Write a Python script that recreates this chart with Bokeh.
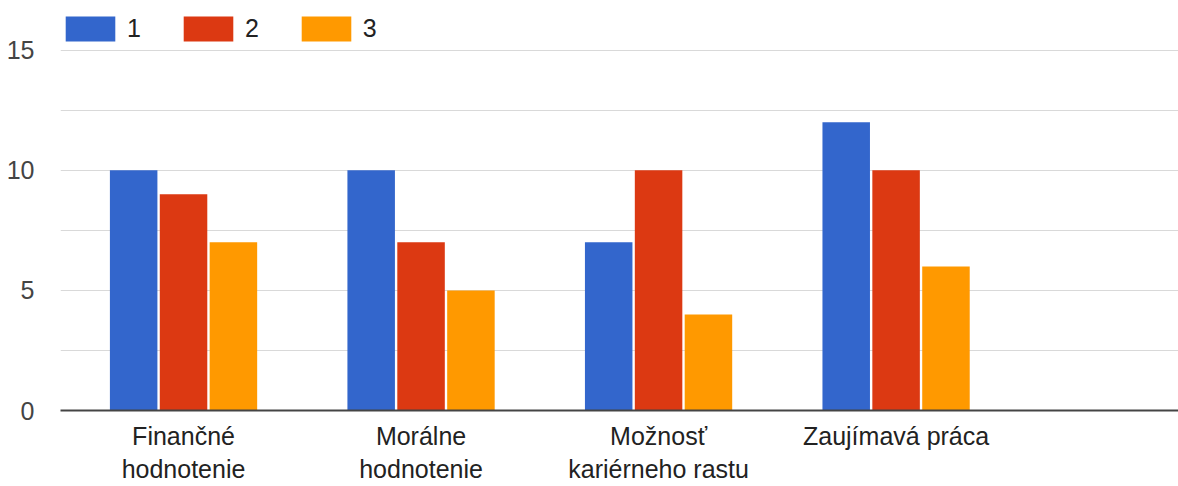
from bokeh.plotting import figure
from bokeh.models import ColumnDataSource, Range1d, FixedTicker, Legend, LegendItem
from bokeh.transform import dodge
from bokeh.embed import file_html
from bokeh.resources import INLINE

categories = ["Finančné\nhodnotenie", "Morálne\nhodnotenie", "Možnosť\nkariérneho rastu", "Zaujímavá práca"]
series_names = ["1", "2", "3"]
s1 = [10, 10, 7, 12]
s2 = [9, 7, 10, 10]
s3 = [7, 5, 4, 6]
colors = ["#3366CC", "#DC3912", "#FF9900"]
y_ticks = [0, 5, 10, 15]
y_grid = [0, 2.5, 5, 7.5, 10, 12.5, 15]

xs = [i + 0.5 for i in range(len(categories))]
src = ColumnDataSource(data=dict(x=xs, s1=s1, s2=s2, s3=s3))

FONT = "Liberation Sans"

p = figure(width=1178, height=486, x_range=Range1d(-0.018, 4.689), y_range=Range1d(0, 17.07),
           output_backend="svg", toolbar_location=None,
           min_border_left=60, min_border_right=0, min_border_top=0, min_border_bottom=75)
p.outline_line_color = None
p.background_fill_color = "white"

renderers = []
for key, off, col in zip(["s1", "s2", "s3"], [-0.21, 0.0, 0.21], colors):
    r = p.vbar(x=dodge("x", off, range=p.x_range), top=key, width=0.2, source=src,
               fill_color=col, line_color=None)
    renderers.append(r)

p.xgrid.visible = False
p.ygrid.ticker = FixedTicker(ticks=y_grid)
p.ygrid.grid_line_color = "#d9d9d9"
p.ygrid.grid_line_width = 1

p.yaxis.ticker = FixedTicker(ticks=y_ticks)
p.yaxis.axis_line_color = None
p.yaxis.major_tick_line_color = None
p.yaxis.minor_tick_line_color = None
p.yaxis.major_label_standoff = 20
p.yaxis.major_label_text_font = FONT
p.yaxis.major_label_text_font_size = "25px"
p.yaxis.major_label_text_color = "#444444"

p.xaxis.ticker = FixedTicker(ticks=xs)
p.xaxis.major_label_overrides = {x: c for x, c in zip(xs, categories)}
p.xaxis.axis_line_color = "#444444"
p.xaxis.axis_line_width = 2
p.xaxis.major_tick_line_color = None
p.xaxis.minor_tick_line_color = None
p.xaxis.major_label_standoff = 5
p.xaxis.major_label_text_font = FONT
p.xaxis.major_label_text_font_size = "25px"
p.xaxis.major_label_text_color = "#222222"

legend = Legend(items=[LegendItem(label=n, renderers=[r]) for n, r in zip(series_names, renderers)],
                orientation="horizontal", location=(-1, 366))
legend.glyph_width = 62
legend.glyph_height = 31
legend.label_standoff = 6
legend.label_width = 12
legend.spacing = 36
legend.padding = 0
legend.margin = 0
legend.border_line_color = None
legend.background_fill_alpha = 0
legend.label_text_font = FONT
legend.label_text_font_size = "25px"
legend.label_text_color = "#222222"
p.add_layout(legend)

open("out.html", "w").write(file_html(p, INLINE))
